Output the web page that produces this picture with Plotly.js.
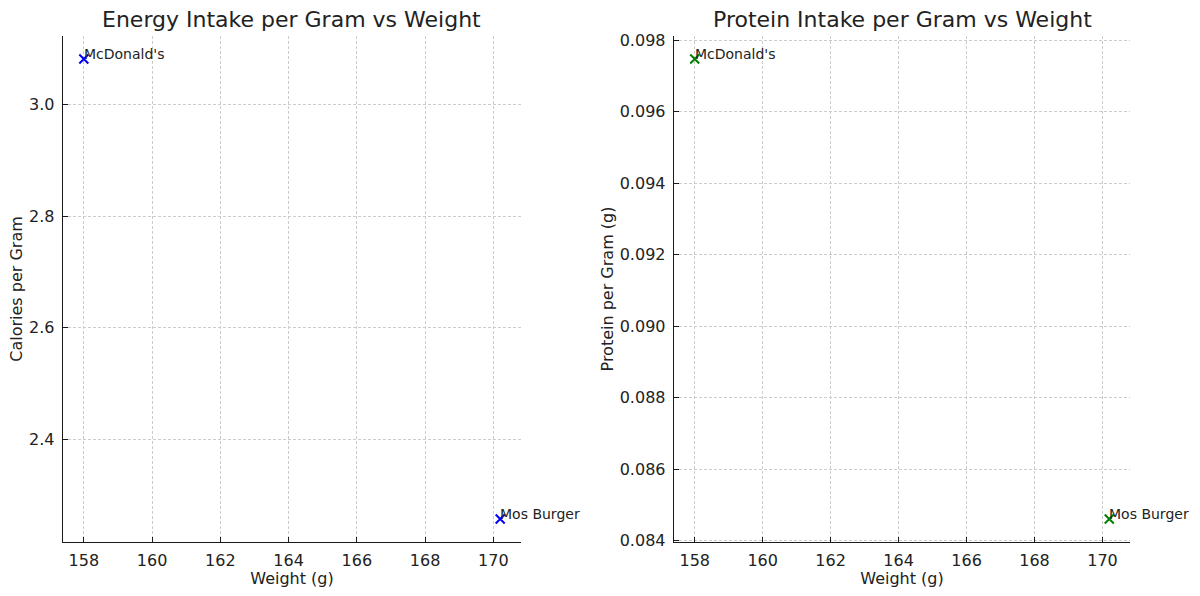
<!DOCTYPE html>
<html>
<head>
<meta charset="utf-8">
<script src="https://cdn.plot.ly/plotly-3.0.1.min.js"></script>
<style>
  html, body { margin: 0; padding: 0; background: #fff; }
  #chart { width: 1200px; height: 596px; }
</style>
</head>
<body>
<div id="chart"></div>
<script>
// data
let names = ["McDonald's", "Mos Burger"]
let weights = [158, 170.2]
let caloriesPerGram = [3.082, 2.257]
let proteinPerGram = [0.09747, 0.08461]

let xTicks = [158, 160, 162, 164, 166, 168, 170]
let calTicks = [2.4, 2.6, 2.8, 3.0]
let protTicks = [0.084, 0.086, 0.088, 0.090, 0.092, 0.094, 0.096, 0.098]

// matplotlib style 5% margins around the data
function padRange(arr) {
  let lo = Math.min(...arr), hi = Math.max(...arr), d = (hi - lo) * 0.05
  return [lo - d, hi + d]
}

let textColor = '#222222'
let font = 'DejaVu Sans, sans-serif'

let trace1 = {
  x: weights, y: caloriesPerGram,
  xaxis: 'x', yaxis: 'y',
  type: 'scatter', mode: 'markers',
  marker: { symbol: 'x-thin', size: 9, color: 'blue', line: { color: 'blue', width: 2 } },
  hoverinfo: 'skip'
}
let trace2 = {
  x: weights, y: proteinPerGram,
  xaxis: 'x2', yaxis: 'y2',
  type: 'scatter', mode: 'markers',
  marker: { symbol: 'x-thin', size: 9, color: 'green', line: { color: 'green', width: 2 } },
  hoverinfo: 'skip'
}

function baseAxis(extra) {
  return Object.assign({
    showline: true, linecolor: '#1a1a1a', linewidth: 1.3,
    mirror: false, zeroline: false,
    showgrid: true, gridcolor: '#cccccc', griddash: '3px,2px', gridwidth: 1,
    ticks: 'inside', ticklen: 5, tickcolor: '#1a1a1a', tickwidth: 1,
    ticklabelstandoff: 4,
    tickfont: { size: 16, color: textColor, family: font },
    tickmode: 'array'
  }, extra)
}

let annotations = []
// labels next to the points
names.forEach((n, i) => {
  annotations.push({ x: weights[i], y: caloriesPerGram[i], xref: 'x', yref: 'y', text: n,
    showarrow: false, xanchor: 'left', yanchor: 'bottom', xshift: -2, yshift: -5,
    font: { size: 14, color: textColor, family: font } })
  annotations.push({ x: weights[i], y: proteinPerGram[i], xref: 'x2', yref: 'y2', text: n,
    showarrow: false, xanchor: 'left', yanchor: 'bottom', xshift: -2, yshift: -5,
    font: { size: 14, color: textColor, family: font } })
})
// subplot titles
annotations.push({ x: 0.2433, y: 1 - 19 / 596, xref: 'paper', yref: 'paper', text: 'Energy Intake per Gram vs Weight',
  showarrow: false, xanchor: 'center', yanchor: 'middle', font: { size: 22, color: textColor, family: font } })
annotations.push({ x: 0.7517, y: 1 - 19 / 596, xref: 'paper', yref: 'paper', text: 'Protein Intake per Gram vs Weight',
  showarrow: false, xanchor: 'center', yanchor: 'middle', font: { size: 22, color: textColor, family: font } })

let layout = {
  width: 1200, height: 596,
  margin: { l: 0, r: 0, t: 0, b: 0 },
  paper_bgcolor: '#fff', plot_bgcolor: '#fff',
  showlegend: false,
  font: { family: font, color: textColor },
  xaxis: baseAxis({ domain: [63 / 1200, 521 / 1200], range: padRange(weights), anchor: 'y',
    tickvals: xTicks, ticktext: xTicks.map(String), ticklabelstandoff: 3,
    title: { text: 'Weight (g)', font: { size: 16, color: textColor, family: font }, standoff: 0 } }),
  yaxis: baseAxis({ domain: [1 - 542 / 596, 1 - 36 / 596], range: padRange(caloriesPerGram), anchor: 'x',
    tickvals: calTicks, ticktext: calTicks.map(v => v.toFixed(1)),
    title: { text: 'Calories per Gram', font: { size: 16, color: textColor, family: font }, standoff: 2 } }),
  xaxis2: baseAxis({ domain: [674 / 1200, 1130 / 1200], range: padRange(weights), anchor: 'y2',
    tickvals: xTicks, ticktext: xTicks.map(String), ticklabelstandoff: 3,
    title: { text: 'Weight (g)', font: { size: 16, color: textColor, family: font }, standoff: 0 } }),
  yaxis2: baseAxis({ domain: [1 - 542 / 596, 1 - 36 / 596], range: padRange(proteinPerGram), anchor: 'x2',
    tickvals: protTicks, ticktext: protTicks.map(v => v.toFixed(3)),
    title: { text: 'Protein per Gram (g)', font: { size: 16, color: textColor, family: font }, standoff: 2 } }),
  annotations: annotations
}

Plotly.newPlot('chart', [trace1, trace2], layout, { displayModeBar: false, staticPlot: true })
</script>
</body>
</html>
